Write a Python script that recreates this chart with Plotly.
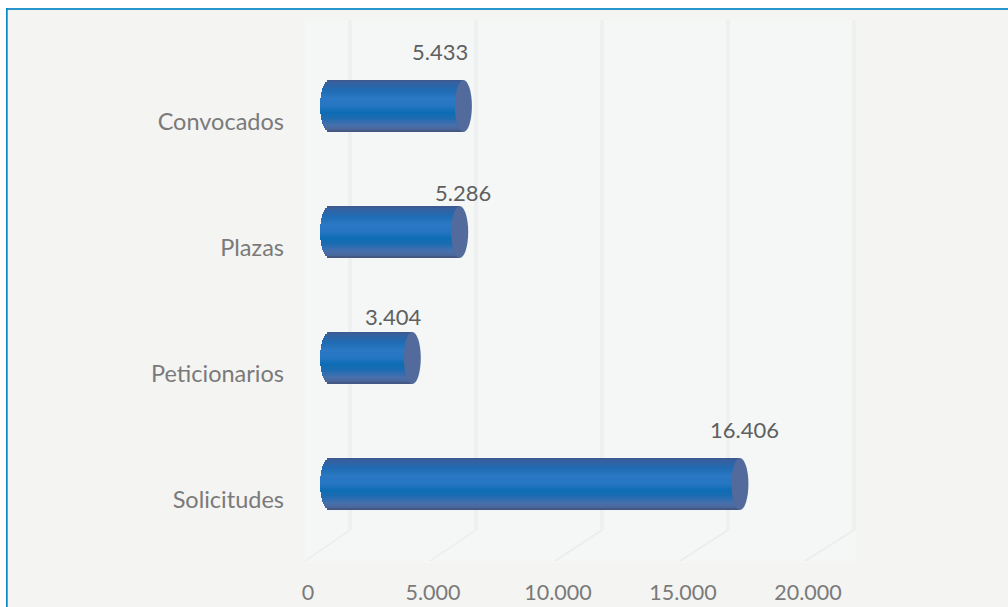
import plotly.graph_objects as go

categories = ["Solicitudes", "Peticionarios", "Plazas", "Convocados"]
values = [16406, 3404, 5286, 5433]
value_labels = ["16.406", "3.404", "5.286", "5.433"]
tick_values = [0, 5000, 10000, 15000, 20000]
tick_labels = ["0", "5.000", "10.000", "15.000", "20.000"]

# layout helpers (pixels)
W, H = 1008, 607
PL, PR, PT, PB = 290, 870, 20, 577
FRONT_X0, FRONT_K = 308, 0.0250
BAR_X0, BAR_K = 326.5, 0.0252
Y0, Y_K = 484, 126.0
LABEL_DROP = 16
BACK_X0, BACK_K = 350, 0.0252
label_dx = [5, -19, 3, -23]
label_dy = [55, 42, 40, 55]
bar_h = 52 / Y_K
cap_hw = 8.5 / BAR_K
left_hw = 9 / BAR_K
left_reach = 6.5 / BAR_K

rx = [(PL - FRONT_X0) / FRONT_K, (PR - FRONT_X0) / FRONT_K]
rx2 = [(PL - BAR_X0) / BAR_K, (PR - BAR_X0) / BAR_K]
ry = [(Y0 - PB) / Y_K, (Y0 - PT) / Y_K]
ry_labels = [(Y0 + LABEL_DROP - PB) / Y_K, (Y0 + LABEL_DROP - PT) / Y_K]

stops = [(0.0, "#41588c"), (0.05, "#35619f"), (0.2, "#1f6cb4"), (0.36, "#2b78c5"),
         (0.5, "#2676c2"), (0.62, "#0c6cb4"), (0.74, "#1f6cb2"), (0.88, "#4a70ab"),
         (0.96, "#4a6496"), (1.0, "#3c4d74")]


def mix(t):
    for (a, ca), (b, cb) in zip(stops, stops[1:]):
        if t <= b:
            f = (t - a) / (b - a)
            c = [round(int(ca[i:i + 2], 16) * (1 - f) + int(cb[i:i + 2], 16) * f) for i in (1, 3, 5)]
            return "#%02x%02x%02x" % tuple(c)
    return stops[-1][1]


fig = go.Figure()
ys = list(range(len(categories)))

# category axis carrier (labels sit lower than the bars, as in the 3D original)
fig.add_trace(go.Scatter(x=values, y=ys, mode="markers", marker=dict(size=1, opacity=0),
                         hoverinfo="skip", showlegend=False, xaxis="x", yaxis="y"))

# floor + back-wall gridlines on the front value axis
floor_front = (Y0 - 561) / Y_K
floor_back = (Y0 - 530) / Y_K
wall_top = (Y0 - 20) / Y_K
fx, fy, wx, wy = [], [], [], []
for t in tick_values:
    back = (BACK_X0 - FRONT_X0 + t * BACK_K) / FRONT_K
    fx += [t - 120, back, None]
    fy += [floor_front, floor_back, None]
    wx += [back, back, None]
    wy += [floor_back, wall_top, None]
fig.add_trace(go.Scatter(x=fx, y=fy, mode="lines", line=dict(color="#ececec", width=1.5),
                         hoverinfo="skip", showlegend=False, xaxis="x", yaxis="y2"))
fig.add_trace(go.Scatter(x=wx, y=wy, mode="lines", line=dict(color="#eeefef", width=3.5),
                         hoverinfo="skip", showlegend=False, xaxis="x", yaxis="y2"))

# cylinder bodies: stacked horizontal strips
N = 26
for s in range(N):
    t0 = s / N
    tm = (s + 0.5) / N
    u = 2 * tm - 1
    inset = left_hw * (1 - (1 - u * u) ** 0.5)
    base = [-left_reach + inset] * len(values)
    fig.add_trace(go.Bar(
        orientation="h",
        y=ys,
        x=[v - b for v, b in zip(values, base)],
        base=base,
        width=bar_h / N * 1.25,
        offset=bar_h / 2 - (t0 + 1 / N) * bar_h,
        marker=dict(color=mix(tm), line=dict(width=0)),
        hoverinfo="skip", showlegend=False, xaxis="x2", yaxis="y2",
    ))


def px_x(p):
    return p / W


def px_y(p):
    return 1 - p / H


shapes = [
    dict(type="rect", xref="paper", yref="paper", layer="below",
         x0=px_x(6), x1=1, y0=0, y1=px_y(8), fillcolor="#f4f4f2", line=dict(width=0)),
    dict(type="rect", xref="paper", yref="paper", layer="below",
         x0=px_x(305), x1=px_x(856), y0=px_y(563), y1=px_y(20), fillcolor="#f4f7f6", line=dict(width=0)),
]
# end caps from the values
for i, v in enumerate(values):
    shapes.append(dict(type="circle", xref="x2", yref="y2", layer="above",
                       x0=v - cap_hw, x1=v + cap_hw, y0=i - bar_h / 2, y1=i + bar_h / 2,
                       fillcolor="#536b9c", line=dict(width=0)))
# frame: top and left only
shapes.append(dict(type="rect", xref="paper", yref="paper", layer="above",
                   x0=px_x(6), x1=1, y0=px_y(10), y1=px_y(8), fillcolor="#2a95cb", line=dict(width=0)))
shapes.append(dict(type="rect", xref="paper", yref="paper", layer="above",
                   x0=px_x(6), x1=px_x(7.7), y0=0, y1=px_y(8), fillcolor="#0f86c4", line=dict(width=0)))

annotations = [dict(x=v, y=i, xref="x2", yref="y2", text=value_labels[i], showarrow=False,
                    xshift=label_dx[i], yshift=label_dy[i],
                    font=dict(family="Lato", size=22, color="#5f5f5f"))
               for i, v in enumerate(values)]

fig.update_layout(
    width=W, height=H, autosize=False,
    margin=dict(l=0, r=0, t=0, b=0),
    paper_bgcolor="#ffffff", plot_bgcolor="rgba(0,0,0,0)",
    barmode="overlay", showlegend=False, bargap=0,
    shapes=shapes, annotations=annotations,
    font=dict(family="Lato", size=21, color="#7a7a7a"),
    xaxis=dict(domain=[PL / W, PR / W], range=rx, tickvals=tick_values, ticktext=tick_labels,
               showgrid=False, zeroline=False, showline=False, ticks="",
               anchor="y", tickfont=dict(family="Lato", size=21.5, color="#7a7a7a")),
    xaxis2=dict(domain=[PL / W, PR / W], range=rx2, overlaying="x", visible=False, anchor="y"),
    yaxis=dict(domain=[(H - PB) / H, (H - PT) / H], range=ry_labels, tickvals=ys, ticktext=categories,
               showgrid=False, zeroline=False, showline=False, ticks="", ticklabelstandoff=5,
               anchor="x", tickfont=dict(family="Lato", size=23.5, color="#7a7a7a")),
    yaxis2=dict(domain=[(H - PB) / H, (H - PT) / H], range=ry, overlaying="y", visible=False, anchor="x"),
)

fig.write_html("out.html", config=dict(displayModeBar=False),
               post_script="document.body.style.margin='0';")
